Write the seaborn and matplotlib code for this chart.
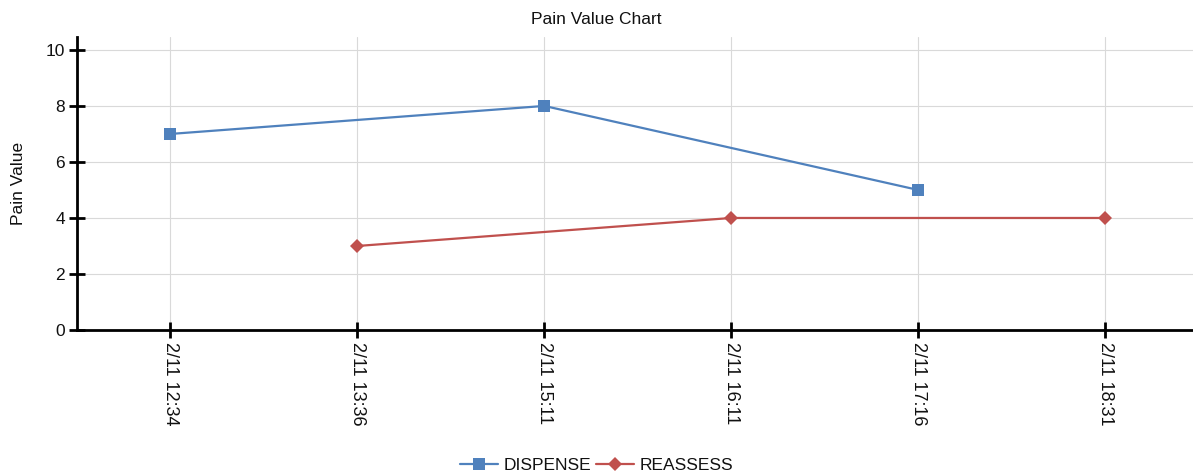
import numpy as np
import pandas as pd
import matplotlib
matplotlib.use("Agg")
import matplotlib.pyplot as plt
import seaborn as sns

times = ["2/11 12:34", "2/11 13:36", "2/11 15:11", "2/11 16:11", "2/11 17:16", "2/11 18:31"]
dispense_times = ["2/11 12:34", "2/11 15:11", "2/11 17:16"]
dispense_values = [7, 8, 5]
reassess_times = ["2/11 13:36", "2/11 16:11", "2/11 18:31"]
reassess_values = [3, 4, 4]

blue = "#4F81BD"
red = "#C0504D"

df = pd.concat([
    pd.DataFrame({"time": dispense_times, "value": dispense_values, "series": "DISPENSE"}),
    pd.DataFrame({"time": reassess_times, "value": reassess_values, "series": "REASSESS"}),
])
df["pos"] = df["time"].map({t: i for i, t in enumerate(times)})

sns.set_style("white")
plt.rcParams["font.family"] = ["Liberation Sans", "DejaVu Sans"]
plt.rcParams["text.color"] = "#111111"
plt.rcParams["axes.labelcolor"] = "#111111"
plt.rcParams["xtick.labelcolor"] = "#111111"
plt.rcParams["ytick.labelcolor"] = "#111111"

fig = plt.figure(figsize=(11.93, 4.76), dpi=100)
ax = fig.add_axes([0.0645, 0.3067, 0.9355, 0.6155])

sns.lineplot(data=df, x="pos", y="value", hue="series", style="series",
             palette={"DISPENSE": blue, "REASSESS": red},
             markers={"DISPENSE": "s", "REASSESS": "D"},
             dashes=False, sort=True, ax=ax, linewidth=1.6,
             markeredgewidth=0, legend=False)
for line in ax.lines:
    if line.get_marker() == "s":
        line.set_markersize(9)
    else:
        line.set_markersize(7)

ax.set_xlim(-0.5, 5.47)
ax.set_ylim(0, 10.46)
ax.set_yticks([0, 2, 4, 6, 8, 10])
ax.set_xticks(range(len(times)))
ax.set_xticklabels(times, rotation=270, fontsize=13)
ax.tick_params(axis="y", labelsize=12.5)
ax.tick_params(bottom=True, left=True, direction="inout", length=11,
               width=2, color="black", pad=3)
ax.grid(True, color="#d9d9d9", linewidth=0.8)
ax.set_axisbelow(True)

for side in ["top", "right"]:
    ax.spines[side].set_visible(False)
for side in ["left", "bottom"]:
    ax.spines[side].set_color("black")
    ax.spines[side].set_linewidth(2)

ax.set_xlabel("")
ax.set_ylabel("Pain Value", fontsize=12.5, labelpad=14)
fig.suptitle("Pain Value Chart", x=0.5, y=0.958, fontsize=12.5, va="center")

handles = [
    plt.Line2D([], [], color=blue, marker="s", markersize=9, linewidth=1.6, markeredgewidth=0),
    plt.Line2D([], [], color=red, marker="D", markersize=7, linewidth=1.6, markeredgewidth=0),
]
fig.legend(handles, ["DISPENSE", "REASSESS"], loc="center", bbox_to_anchor=(0.5, 0.023),
           ncol=2, frameon=False, fontsize=12.5, handlelength=2.2,
           columnspacing=0.3, handletextpad=0.3, borderaxespad=0)

fig.savefig("out.png", dpi=100)
